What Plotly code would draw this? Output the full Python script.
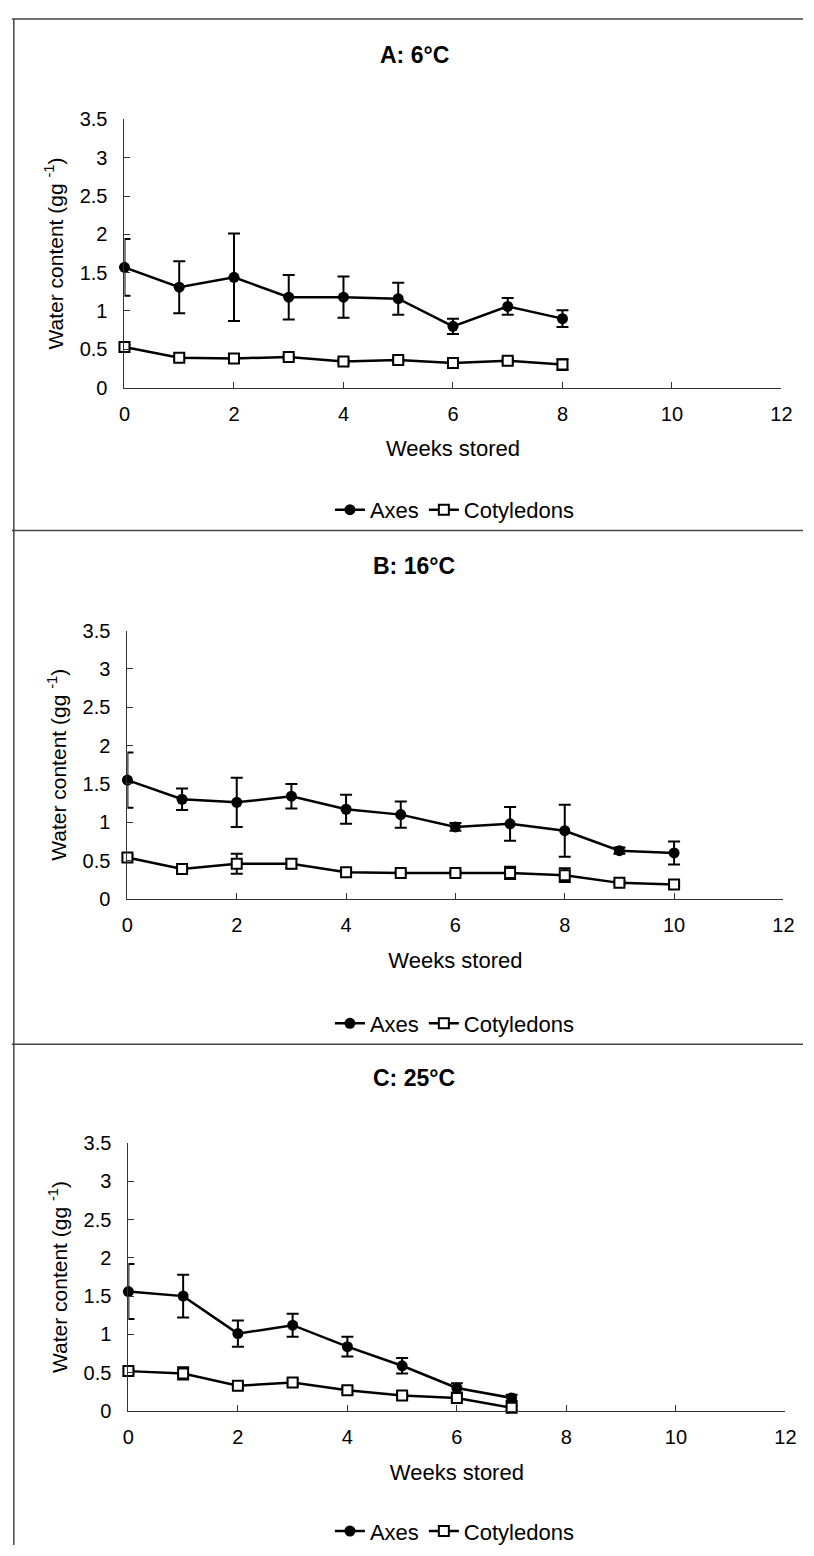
import plotly.graph_objects as go

W, H = 814, 1556

weeks_A = [0, 1, 2, 3, 4, 5, 6, 7, 8]
axes_A = [1.57, 1.31, 1.44, 1.18, 1.18, 1.16, 0.80, 1.06, 0.90]
axes_A_err = [0.37, 0.34, 0.57, 0.29, 0.27, 0.21, 0.10, 0.11, 0.11]
cot_A = [0.53, 0.39, 0.38, 0.40, 0.34, 0.36, 0.32, 0.35, 0.30]
cot_A_err = [0.03, 0.03, 0.02, 0.03, 0.03, 0.03, 0.02, 0.03, 0.07]

weeks_B = [0, 1, 2, 3, 4, 5, 6, 7, 8, 9, 10]
axes_B = [1.55, 1.30, 1.26, 1.34, 1.17, 1.10, 0.94, 0.98, 0.89, 0.63, 0.60]
axes_B_err = [0.36, 0.14, 0.32, 0.16, 0.19, 0.17, 0.05, 0.22, 0.34, 0.04, 0.15]
cot_B = [0.54, 0.39, 0.46, 0.46, 0.35, 0.34, 0.34, 0.34, 0.31, 0.21, 0.19]
cot_B_err = [0.03, 0.03, 0.13, 0.06, 0.03, 0.02, 0.02, 0.08, 0.09, 0.02, 0.03]

weeks_C = [0, 1, 2, 3, 4, 5, 6, 7]
axes_C = [1.56, 1.50, 1.01, 1.12, 0.84, 0.59, 0.30, 0.17]
axes_C_err = [0.36, 0.28, 0.17, 0.15, 0.13, 0.10, 0.06, 0.04]
cot_C = [0.52, 0.49, 0.33, 0.37, 0.27, 0.20, 0.17, 0.04]
cot_C_err = [0.03, 0.08, 0.03, 0.04, 0.04, 0.03, 0.03, 0.03]

titles = ["A: 6°C", "B: 16°C", "C: 25°C"]
series_names = ["Axes", "Cotyledons"]
y_ticks = [0, 0.5, 1, 1.5, 2, 2.5, 3, 3.5]
y_ticktext = ["0", "0.5", "1", "1.5", "2", "2.5", "3", "3.5"]
x_ticks = [0, 2, 4, 6, 8, 10, 12]
x_label = "Weeks stored"
y_label = "Water content (gg <sup>-1</sup>)"

# layout geometry in pixels
panels = [
    dict(x0=121, x1=792, ytop=110, ybot=382, title=45, legend=506, frame=8),
    dict(x0=124, x1=794, ytop=628.5, ybot=900.7, title=563, legend=1027, frame=527),
    dict(x0=125, x1=796, ytop=1148.3, ybot=1420, title=1082, legend=1542, frame=1048),
]
data = [
    (weeks_A, axes_A, axes_A_err, cot_A, cot_A_err),
    (weeks_B, axes_B, axes_B_err, cot_B, cot_B_err),
    (weeks_C, axes_C, axes_C_err, cot_C, cot_C_err),
]

def fx(px):
    return px / W

def fy(px):
    return 1 - px / H

FONT = "Liberation Sans, Arial, sans-serif"
fig = go.Figure()
layout = dict(
    width=W, height=H, margin=dict(l=0, r=0, t=0, b=0),
    paper_bgcolor="white", plot_bgcolor="white",
    font=dict(family=FONT, size=20, color="black"),
    annotations=[], shapes=[],
)

for i, (p, d) in enumerate(zip(panels, data)):
    n = "" if i == 0 else str(i + 1)
    xa, ya = "x" + n, "y" + n
    leg = "legend" + n
    weeks, ax, axe, co, coe = d
    fig.add_trace(go.Scatter(
        x=weeks, y=ax, name=series_names[0], xaxis=xa, yaxis=ya, legend=leg,
        mode="lines+markers", cliponaxis=False,
        line=dict(color="black", width=2.5),
        marker=dict(symbol="circle", size=11, color="black"),
        error_y=dict(type="data", array=axe, visible=True, color="black", thickness=2, width=6),
    ))
    fig.add_trace(go.Scatter(
        x=weeks, y=co, name=series_names[1], xaxis=xa, yaxis=ya, legend=leg,
        mode="lines+markers", cliponaxis=False,
        line=dict(color="black", width=2.5),
        marker=dict(symbol="square", size=10, color="white", line=dict(color="black", width=2)),
        error_y=dict(type="data", array=coe, visible=True, color="black", thickness=2, width=6),
    ))
    layout["xaxis" + n] = dict(
        domain=[fx(p["x0"]), fx(p["x1"])], range=[0, 12], anchor=ya,
        tickvals=x_ticks, ticks="inside", ticklen=6, tickcolor="#333", tickwidth=1,
        showline=True, linecolor="#333", linewidth=1, showgrid=False, zeroline=False,
        ticklabelstandoff=8, tickfont=dict(size=20),
        title=dict(text=x_label, font=dict(size=22), standoff=17),
    )
    layout["yaxis" + n] = dict(
        domain=[fy(p["ybot"]), fy(p["ytop"])], range=[0, 3.5], anchor=xa,
        tickvals=y_ticks, ticktext=y_ticktext, ticks="inside", ticklen=6,
        tickcolor="#333", tickwidth=1,
        showline=True, linecolor="#333", linewidth=1, showgrid=False, zeroline=False,
        ticklabelstandoff=12, tickfont=dict(size=20),
        title=dict(text=y_label, font=dict(size=21), standoff=10),
    )
    layout[leg] = dict(
        orientation="h", x=fx(458), y=fy(p["legend"]), xanchor="center", yanchor="middle",
        font=dict(size=22), bgcolor="rgba(0,0,0,0)", itemwidth=30, tracegroupgap=0,
    )
    layout["annotations"].append(dict(
        text="<b>" + titles[i] + "</b>", x=fx(417), y=fy(p["title"]), xref="paper", yref="paper",
        showarrow=False, xanchor="center", yanchor="middle", font=dict(size=23),
    ))
    layout["shapes"].append(dict(
        type="line", xref="paper", yref="paper", x0=fx(6), x1=1, y0=fy(p["frame"]), y1=fy(p["frame"]),
        line=dict(color="#444", width=1.5),
    ))

layout["shapes"].append(dict(
    type="line", xref="paper", yref="paper", x0=fx(8), x1=fx(8), y0=0, y1=fy(8),
    line=dict(color="#444", width=1.5),
))

fig.update_layout(**layout)
fig.write_html("out.html")
